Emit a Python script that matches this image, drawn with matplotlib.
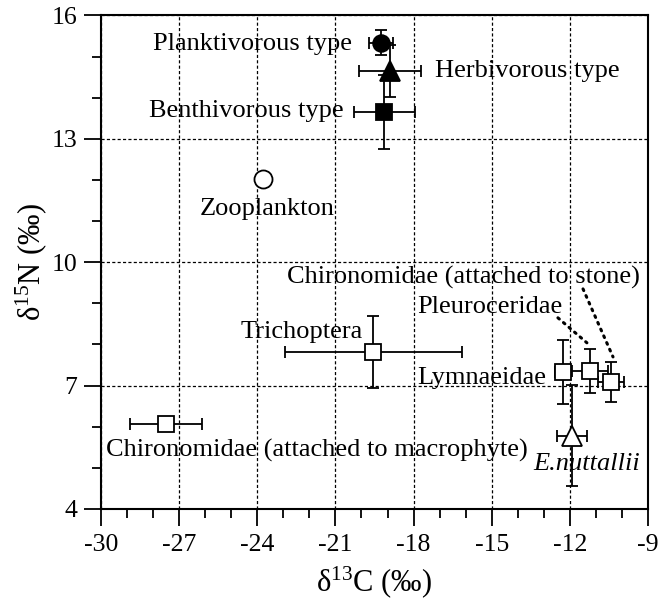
import matplotlib
matplotlib.use("Agg")
import matplotlib.pyplot as plt
from matplotlib.transforms import offset_copy
from matplotlib.ticker import MultipleLocator

plt.rcParams["font.family"] = ["Liberation Serif", "DejaVu Serif"]
plt.rcParams["mathtext.fontset"] = "custom"
plt.rcParams["mathtext.rm"] = "Liberation Serif"
plt.rcParams["mathtext.it"] = "Liberation Serif:italic"
plt.rcParams["axes.unicode_minus"] = False

# stable isotope means and SD (d13C, d15N)
names = ["Planktivorous type", "Herbivorous type", "Benthivorous type", "Zooplankton",
         "Trichoptera", "Lymnaeidae", "Pleuroceridae", "Chironomidae (attached to stone)",
         "Chironomidae (attached to macrophyte)", "E.nuttallii"]
d13c = [-19.26, -18.9, -19.12, -23.79, -19.55, -12.28, -11.23, -10.42, -27.5, -11.91]
d15n = [15.34, 14.65, 13.66, 12.03, 7.82, 7.33, 7.36, 7.09, 6.07, 5.78]
c_sd = [0.46, 1.18, 1.18, 0.0, 3.4, 0.3, 0.7, 0.5, 1.39, 0.58]
n_sd = [0.31, 0.64, 0.9, 0.0, 0.88, 0.78, 0.54, 0.49, 0.0, 1.23]
markers = ["o", "^", "s", "o", "s", "s", "s", "s", "s", "^"]
filled = [True, True, True, False, False, False, False, False, False, False]
xticks = [-30, -27, -24, -21, -18, -15, -12, -9]
yticks = [4, 7, 10, 13, 16]

# label placement, offsets in pixels from the point
label_off = [(-29, -1), (45, 0), (-41, 1), (4, -30), (-10, 20), (-16, -6),
             (-27, 64), (29, 104), (-60, -27), (-39, -28)]
label_ha = ["right", "left", "right", "center", "right", "right",
            "right", "right", "left", "left"]
italic = [False] * 9 + [True]
# dotted leader lines: (index, start offset, end offset) in pixels
leaders = [(6, (-32, 53), (-3, 28)), (7, (-28, 93), (2, 25))]

fig = plt.figure(figsize=(6.58, 6.02), dpi=100)
ax = fig.add_axes([0.1535, 0.1545, 0.8313, 0.8198])

for i in range(len(names)):
    ax.errorbar(d13c[i], d15n[i], xerr=c_sd[i] or None, yerr=n_sd[i] or None,
                fmt="none", ecolor="black", elinewidth=1.3, capsize=4.5,
                capthick=1.3, zorder=3)
for i in range(len(names)):
    ms = 13 if markers[i] == "o" and not filled[i] else 12
    if markers[i] == "^":
        ms = 14
    ax.plot(d13c[i], d15n[i], marker=markers[i], ms=ms, linestyle="none",
            mfc="black" if filled[i] else "white", mec="black", mew=1.3,
            zorder=4)

for i, name in enumerate(names):
    ax.annotate(name, (d13c[i], d15n[i]), xytext=label_off[i],
                textcoords="offset pixels", ha=label_ha[i], va="center",
                fontsize=19, style="italic" if italic[i] else "normal",
                zorder=5)

for i, s, e in leaders:
    ax.annotate("", xy=(d13c[i], d15n[i]),
                xycoords=offset_copy(ax.transData, fig=fig, x=e[0], y=e[1], units="dots"),
                xytext=(d13c[i], d15n[i]),
                textcoords=offset_copy(ax.transData, fig=fig, x=s[0], y=s[1], units="dots"),
                arrowprops=dict(arrowstyle="-", linestyle=(0, (0.6, 1.8)), lw=2.2,
                                color="black", shrinkA=0, shrinkB=0))

ax.set_xlim(-30, -9)
ax.set_ylim(4, 16)
ax.set_xticks(xticks)
ax.set_yticks(yticks)
ax.xaxis.set_minor_locator(MultipleLocator(1))
ax.yaxis.set_minor_locator(MultipleLocator(1))
ax.tick_params(which="both", direction="out", width=1.3, labelsize=18.5)
ax.tick_params(axis="x", pad=6)
ax.tick_params(axis="y", pad=5)
ax.tick_params(which="major", length=12)
ax.tick_params(which="minor", length=6.5)
ax.grid(which="major", color="black", linestyle=(0, (2.5, 1.8)), linewidth=0.9)
ax.set_axisbelow(True)
for sp in ax.spines.values():
    sp.set_linewidth(1.5)

ax.set_xlabel("\u03b4$^{13}$C (‰)", fontsize=22, labelpad=6)
ax.set_ylabel("\u03b4$^{15}$N (‰)", fontsize=22, labelpad=2)

fig.savefig("out.png", dpi=100)
